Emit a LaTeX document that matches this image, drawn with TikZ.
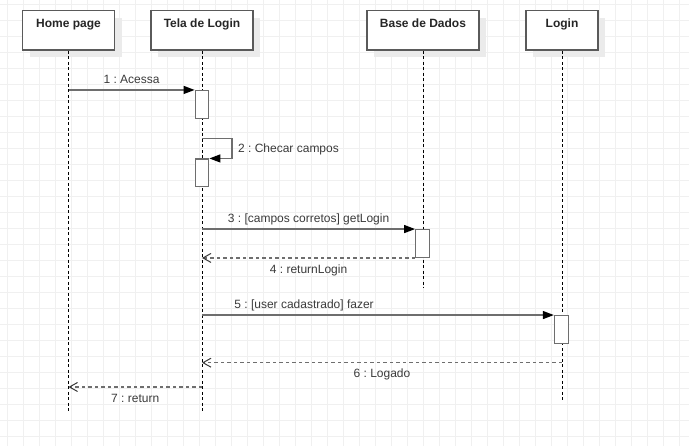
\documentclass[tikz,border=0pt]{standalone}
\usepackage{fontspec}
\setmainfont{Liberation Sans}
\frenchspacing
\usetikzlibrary{%
	arrows.meta,%
	calc,%
	shadows
}
\definecolor{grid-gray}{HTML}{F0F0F0}
\definecolor{shadow-gray}{HTML}{EBEBEB}
\definecolor{line-gray}{HTML}{6E6E6E}
\definecolor{text-gray}{HTML}{3A3A3A}
\definecolor{border-gray}{HTML}{5A5A5A}

\tikzset{
	gridline/.style={grid-gray, line width=0.8pt},
	headbox/.style={draw=border-gray, line width=1.3pt, fill=white,
		minimum width=#1, minimum height=39.3pt, inner sep=0pt,
		general shadow={fill=shadow-gray, shadow xshift=7pt, shadow yshift=-7pt}},
	headtext/.style={anchor=north, inner sep=0pt, yshift=-8.8pt, text=black!85,
		font=\bfseries\fontsize{12}{14}\selectfont},
	lifeline/.style={black, line width=0.9pt, dash pattern=on 3pt off 2.5pt},
	activation/.style={draw=line-gray, line width=1.3pt, fill=white,
		minimum width=13.5pt, minimum height=27.6pt, inner sep=0pt},
	msg/.style={line-gray, line width=1.3pt, -{Triangle[length=11pt,width=8pt,color=black]}},
	ret/.style={line-gray, line width=1.3pt, dash pattern=on 3.5pt off 3pt,
		-{Straight Barb[length=8pt,width=9pt,line width=1pt,color=text-gray]}},
	msglabel/.style={text=text-gray, inner sep=5.5pt, text height=9pt, text depth=0pt,
		font=\fontsize{12}{14}\selectfont}
}

\begin{document}
\begin{tikzpicture}[x=1pt, y=-1pt]
	\useasboundingbox (0,0) rectangle (689,446);

	% Background grid
	\foreach \gx in {7,23,...,689} \draw[gridline] (\gx,0) -- (\gx,446);
	\foreach \gy in {4,20,...,446} \draw[gridline] (0,\gy) -- (689,\gy);

	% Heads
	\node[headbox=92pt, label={[headtext]north:Home page}] (home) at (68.5,30.5) {};
	\node[headbox=102pt, label={[headtext]north:Tela de Login}] (tela) at (202,30.5) {};
	\node[headbox=112pt, label={[headtext]north:Base de Dados}] (base) at (423,30.5) {};
	\node[headbox=72pt, label={[headtext]north:Login}] (login) at (562,30.5) {};

	% Lifelines
	\coordinate (homeEnd) at (68.5,413);
	\coordinate (telaEnd) at (202,413);
	\coordinate (baseEnd) at (423,288);
	\coordinate (loginEnd) at (562,401.7);
	\draw[lifeline] (home.south) -- (homeEnd);
	\draw[lifeline] (tela.south) -- (telaEnd);
	\draw[lifeline] (base.south) -- (baseEnd);
	\draw[lifeline] (login.south) -- (loginEnd);

	% Activations
	\node[activation] (act1) at (202,104.4) {};
	\node[activation] (act2) at (202,172.9) {};
	\node[activation] (act3) at (422.5,243.5) {};
	\node[activation, minimum width=14pt] (act5) at (561.5,329.5) {};

	% Messages
	\draw[msg] (home |- act1.north) -- (act1.north west)
		node[msglabel, midway, above] {1 : Acessa};
	\coordinate (self2) at (202,138.3);
	\draw[msg] (self2) -- ++(30,0) |- (act2.north east)
		node[msglabel, pos=0.25, right] {2 : Checar campos};
	\draw[msg] (tela |- act3.north) -- (act3.north west)
		node[msglabel, midway, above] {3 : [campos corretos] getLogin};
	\draw[ret] (act3.south west) -- (tela |- act3.south)
		node[msglabel, midway, below] {4 : returnLogin};
	\draw[msg] (tela |- act5.north) -- (act5.north west)
		node[msglabel, pos=0.29, above] {5 : [user cadastrado] fazer};
	\coordinate (row6) at (0,362.7);
	\draw[ret] (login |- row6) -- (tela |- row6)
		node[msglabel, midway, below] {6 : Logado};
	\coordinate (row7) at (0,387);
	\draw[ret] (tela |- row7) -- (home |- row7)
		node[msglabel, midway, below] {7 : return};
\end{tikzpicture}
\end{document}
